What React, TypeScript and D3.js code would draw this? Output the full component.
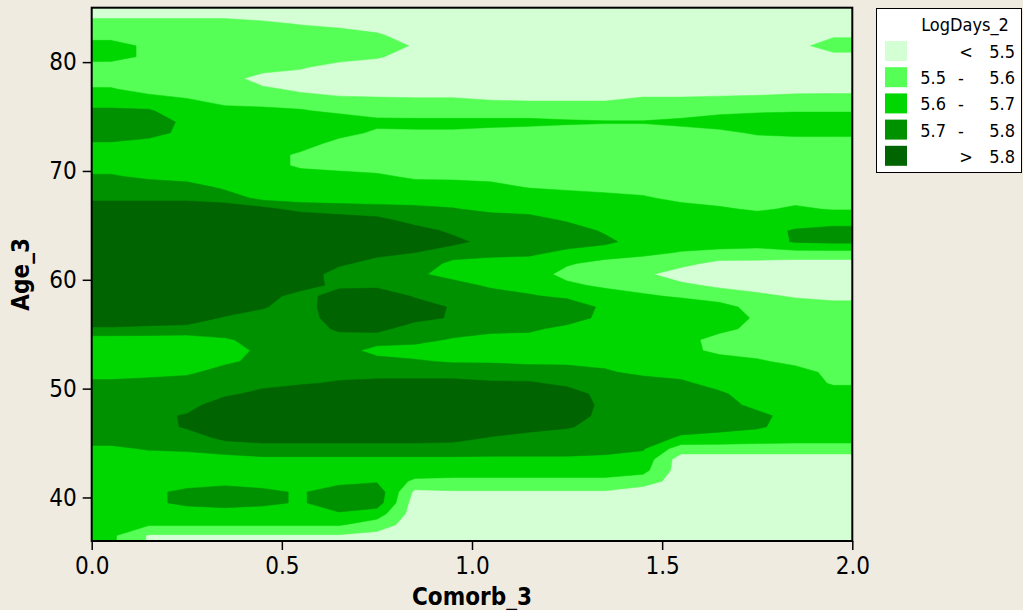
import * as d3 from "d3";
import { useEffect, useRef } from "react";

// grid cell centres (Comorb_3 across, Age_3 from top to bottom)
const comorbCenters = [
  0.05, 0.15, 0.25, 0.35, 0.45, 0.55, 0.65, 0.75, 0.85, 0.95,
  1.05, 1.15, 1.25, 1.35, 1.45, 1.55, 1.65, 1.75, 1.85, 1.95,
];
const ageCenters = [
  84.5, 83.5, 82.5, 81.5, 80.5, 79.5, 78.5, 77.5, 76.5, 75.5, 74.5, 73.5,
  72.5, 71.5, 70.5, 69.5, 68.5, 67.5, 66.5, 65.5, 64.5, 63.5, 62.5, 61.5,
  60.5, 59.5, 58.5, 57.5, 56.5, 55.5, 54.5, 53.5, 52.5, 51.5, 50.5, 49.5,
  48.5, 47.5, 46.5, 45.5, 44.5, 43.5, 42.5, 41.5, 40.5, 39.5, 38.5, 37.5, 36.5,
];

// LogDays_2, one row per age
const logDays = [
  [5.45, 5.45, 5.45, 5.45, 5.45, 5.45, 5.45, 5.45, 5.45, 5.45, 5.45, 5.45, 5.45, 5.45, 5.45, 5.45, 5.45, 5.45, 5.45, 5.45],
  [5.55, 5.55, 5.55, 5.55, 5.52, 5.495, 5.47, 5.46, 5.45, 5.45, 5.45, 5.45, 5.45, 5.45, 5.45, 5.45, 5.45, 5.45, 5.45, 5.45],
  [5.56, 5.55, 5.55, 5.55, 5.55, 5.55, 5.55, 5.51, 5.46, 5.45, 5.44, 5.44, 5.44, 5.44, 5.44, 5.44, 5.44, 5.44, 5.45, 5.48],
  [5.64, 5.58, 5.55, 5.55, 5.55, 5.55, 5.55, 5.55, 5.49, 5.45, 5.44, 5.44, 5.44, 5.44, 5.44, 5.44, 5.44, 5.44, 5.46, 5.56],
  [5.64, 5.58, 5.55, 5.55, 5.55, 5.55, 5.55, 5.51, 5.46, 5.44, 5.43, 5.43, 5.43, 5.43, 5.43, 5.43, 5.43, 5.44, 5.45, 5.46],
  [5.55, 5.55, 5.55, 5.55, 5.55, 5.51, 5.45, 5.45, 5.44, 5.43, 5.43, 5.43, 5.43, 5.43, 5.43, 5.43, 5.43, 5.43, 5.44, 5.44],
  [5.55, 5.55, 5.55, 5.55, 5.45, 5.45, 5.44, 5.43, 5.43, 5.43, 5.43, 5.43, 5.43, 5.43, 5.43, 5.43, 5.43, 5.43, 5.44, 5.44],
  [5.61, 5.56, 5.55, 5.55, 5.52, 5.48, 5.45, 5.45, 5.45, 5.45, 5.45, 5.45, 5.45, 5.45, 5.45, 5.45, 5.45, 5.45, 5.45, 5.45],
  [5.65, 5.65, 5.61, 5.57, 5.55, 5.55, 5.53, 5.52, 5.515, 5.515, 5.5, 5.495, 5.495, 5.495, 5.52, 5.52, 5.53, 5.54, 5.57, 5.58],
  [5.72, 5.71, 5.65, 5.63, 5.63, 5.61, 5.58, 5.55, 5.56, 5.56, 5.56, 5.56, 5.56, 5.56, 5.56, 5.56, 5.58, 5.59, 5.595, 5.595],
  [5.76, 5.77, 5.67, 5.65, 5.65, 5.65, 5.66, 5.63, 5.62, 5.62, 5.62, 5.62, 5.61, 5.605, 5.605, 5.62, 5.64, 5.65, 5.65, 5.65],
  [5.75, 5.74, 5.67, 5.66, 5.66, 5.66, 5.64, 5.58, 5.59, 5.59, 5.58, 5.57, 5.57, 5.57, 5.57, 5.57, 5.58, 5.61, 5.62, 5.62],
  [5.69, 5.66, 5.65, 5.66, 5.66, 5.65, 5.56, 5.55, 5.55, 5.55, 5.55, 5.55, 5.55, 5.55, 5.55, 5.55, 5.56, 5.56, 5.56, 5.56],
  [5.65, 5.65, 5.65, 5.65, 5.65, 5.58, 5.55, 5.55, 5.55, 5.55, 5.55, 5.55, 5.55, 5.55, 5.55, 5.55, 5.55, 5.55, 5.55, 5.55],
  [5.66, 5.65, 5.65, 5.65, 5.65, 5.58, 5.57, 5.55, 5.55, 5.56, 5.56, 5.56, 5.56, 5.56, 5.56, 5.56, 5.56, 5.56, 5.56, 5.56],
  [5.71, 5.68, 5.65, 5.66, 5.66, 5.65, 5.63, 5.62, 5.58, 5.58, 5.57, 5.57, 5.57, 5.56, 5.56, 5.56, 5.56, 5.56, 5.56, 5.56],
  [5.75, 5.75, 5.75, 5.68, 5.66, 5.66, 5.66, 5.66, 5.65, 5.64, 5.63, 5.595, 5.58, 5.57, 5.57, 5.57, 5.56, 5.57, 5.57, 5.57],
  [5.78, 5.78, 5.78, 5.76, 5.67, 5.66, 5.66, 5.66, 5.66, 5.66, 5.66, 5.66, 5.65, 5.63, 5.61, 5.58, 5.57, 5.58, 5.58, 5.58],
  [5.86, 5.86, 5.86, 5.85, 5.83, 5.76, 5.74, 5.73, 5.72, 5.705, 5.68, 5.67, 5.67, 5.66, 5.64, 5.63, 5.61, 5.59, 5.61, 5.595],
  [5.88, 5.9, 5.9, 5.9, 5.86, 5.9, 5.86, 5.83, 5.76, 5.75, 5.74, 5.73, 5.69, 5.67, 5.66, 5.65, 5.64, 5.64, 5.65, 5.66],
  [5.9, 5.9, 5.9, 5.9, 5.88, 5.9, 5.88, 5.86, 5.84, 5.78, 5.76, 5.76, 5.74, 5.69, 5.67, 5.66, 5.65, 5.66, 5.71, 5.73],
  [5.9, 5.9, 5.9, 5.9, 5.88, 5.9, 5.87, 5.86, 5.86, 5.83, 5.76, 5.75, 5.74, 5.72, 5.66, 5.64, 5.64, 5.64, 5.71, 5.72],
  [5.9, 5.9, 5.9, 5.9, 5.88, 5.89, 5.85, 5.83, 5.8, 5.74, 5.73, 5.72, 5.68, 5.65, 5.62, 5.595, 5.58, 5.57, 5.57, 5.57],
  [5.9, 5.9, 5.9, 5.9, 5.87, 5.88, 5.82, 5.76, 5.75, 5.68, 5.66, 5.66, 5.61, 5.57, 5.56, 5.53, 5.47, 5.47, 5.46, 5.46],
  [5.9, 5.9, 5.9, 5.9, 5.87, 5.87, 5.75, 5.76, 5.72, 5.66, 5.65, 5.65, 5.57, 5.55, 5.52, 5.45, 5.45, 5.45, 5.44, 5.44],
  [5.9, 5.9, 5.9, 5.9, 5.86, 5.85, 5.77, 5.78, 5.75, 5.74, 5.68, 5.66, 5.62, 5.58, 5.57, 5.52, 5.48, 5.46, 5.45, 5.45],
  [5.88, 5.9, 5.9, 5.9, 5.85, 5.75, 5.86, 5.86, 5.79, 5.76, 5.75, 5.71, 5.68, 5.65, 5.61, 5.59, 5.56, 5.52, 5.49, 5.47],
  [5.87, 5.87, 5.88, 5.86, 5.81, 5.74, 5.88, 5.88, 5.85, 5.79, 5.77, 5.74, 5.76, 5.68, 5.65, 5.65, 5.63, 5.57, 5.55, 5.54],
  [5.85, 5.85, 5.85, 5.79, 5.75, 5.73, 5.87, 5.88, 5.83, 5.79, 5.76, 5.74, 5.75, 5.67, 5.66, 5.66, 5.64, 5.59, 5.56, 5.56],
  [5.79, 5.78, 5.77, 5.75, 5.74, 5.73, 5.82, 5.83, 5.75, 5.75, 5.73, 5.72, 5.67, 5.66, 5.66, 5.66, 5.63, 5.57, 5.56, 5.56],
  [5.65, 5.65, 5.65, 5.69, 5.73, 5.73, 5.75, 5.74, 5.73, 5.69, 5.66, 5.66, 5.65, 5.65, 5.65, 5.64, 5.56, 5.56, 5.56, 5.57],
  [5.64, 5.64, 5.64, 5.66, 5.72, 5.73, 5.74, 5.67, 5.66, 5.66, 5.65, 5.65, 5.65, 5.65, 5.65, 5.64, 5.57, 5.57, 5.57, 5.57],
  [5.64, 5.64, 5.64, 5.68, 5.73, 5.74, 5.75, 5.73, 5.71, 5.69, 5.69, 5.68, 5.68, 5.68, 5.67, 5.67, 5.65, 5.61, 5.58, 5.58],
  [5.66, 5.66, 5.68, 5.74, 5.75, 5.76, 5.77, 5.77, 5.77, 5.77, 5.76, 5.75, 5.74, 5.71, 5.68, 5.68, 5.67, 5.64, 5.63, 5.58],
  [5.72, 5.74, 5.75, 5.76, 5.77, 5.79, 5.81, 5.82, 5.82, 5.82, 5.81, 5.81, 5.78, 5.74, 5.74, 5.71, 5.68, 5.66, 5.65, 5.59],
  [5.76, 5.76, 5.76, 5.78, 5.83, 5.86, 5.86, 5.86, 5.86, 5.86, 5.85, 5.84, 5.84, 5.77, 5.76, 5.73, 5.71, 5.67, 5.66, 5.64],
  [5.76, 5.77, 5.76, 5.86, 5.87, 5.88, 5.88, 5.88, 5.88, 5.88, 5.87, 5.86, 5.85, 5.78, 5.77, 5.74, 5.73, 5.68, 5.67, 5.66],
  [5.76, 5.77, 5.81, 5.88, 5.88, 5.88, 5.88, 5.88, 5.88, 5.88, 5.87, 5.86, 5.85, 5.77, 5.76, 5.74, 5.73, 5.72, 5.67, 5.66],
  [5.76, 5.76, 5.81, 5.87, 5.87, 5.87, 5.87, 5.87, 5.87, 5.87, 5.85, 5.84, 5.81, 5.76, 5.75, 5.73, 5.72, 5.71, 5.67, 5.66],
  [5.75, 5.75, 5.76, 5.82, 5.84, 5.84, 5.84, 5.84, 5.84, 5.83, 5.795, 5.76, 5.75, 5.75, 5.74, 5.69, 5.68, 5.66, 5.65, 5.65],
  [5.68, 5.71, 5.72, 5.75, 5.76, 5.76, 5.76, 5.76, 5.76, 5.76, 5.75, 5.75, 5.75, 5.74, 5.71, 5.55, 5.55, 5.55, 5.55, 5.55],
  [5.66, 5.65, 5.65, 5.66, 5.68, 5.68, 5.68, 5.68, 5.68, 5.68, 5.68, 5.68, 5.68, 5.67, 5.66, 5.45, 5.45, 5.45, 5.45, 5.45],
  [5.65, 5.65, 5.65, 5.65, 5.65, 5.66, 5.66, 5.66, 5.66, 5.66, 5.66, 5.66, 5.66, 5.66, 5.63, 5.45, 5.45, 5.45, 5.45, 5.45],
  [5.64, 5.65, 5.66, 5.67, 5.66, 5.66, 5.67, 5.69, 5.58, 5.57, 5.57, 5.57, 5.57, 5.57, 5.55, 5.45, 5.45, 5.45, 5.45, 5.45],
  [5.64, 5.68, 5.72, 5.74, 5.72, 5.69, 5.75, 5.76, 5.48, 5.49, 5.49, 5.49, 5.49, 5.49, 5.45, 5.45, 5.45, 5.45, 5.45, 5.45],
  [5.64, 5.68, 5.72, 5.74, 5.72, 5.69, 5.75, 5.75, 5.45, 5.45, 5.45, 5.45, 5.45, 5.45, 5.45, 5.45, 5.45, 5.45, 5.45, 5.45],
  [5.64, 5.64, 5.65, 5.65, 5.65, 5.65, 5.69, 5.65, 5.45, 5.45, 5.45, 5.45, 5.45, 5.45, 5.45, 5.45, 5.45, 5.45, 5.45, 5.45],
  [5.63, 5.61, 5.61, 5.61, 5.61, 5.61, 5.61, 5.55, 5.45, 5.45, 5.45, 5.45, 5.45, 5.45, 5.45, 5.45, 5.45, 5.45, 5.45, 5.45],
  [5.62, 5.49, 5.49, 5.49, 5.49, 5.49, 5.49, 5.47, 5.45, 5.45, 5.45, 5.45, 5.45, 5.45, 5.45, 5.45, 5.45, 5.45, 5.45, 5.45],
];

const thresholds = [5.5, 5.6, 5.7, 5.8];
const bandColors = ["#d4ffd4", "#55ff55", "#00d700", "#009100", "#006400"];
const legendLow = ["", "5.5", "5.6", "5.7", ""];
const legendSign = ["<", "-", "-", "-", ">"];
const legendHigh = ["5.5", "5.6", "5.7", "5.8", "5.8"];
const xTicks = [0, 0.5, 1, 1.5, 2];
const yTicks = [40, 50, 60, 70, 80];

const FONT = "'DejaVu Sans Condensed', 'DejaVu Sans', sans-serif";

export default function App() {
  const svgRef = useRef<SVGSVGElement>(null);
  const width = 1023;
  const height = 610;

  useEffect(() => {
    if (!svgRef.current) return;
    const svg = d3.select(svgRef.current);
    svg.selectAll("*").remove();

    const x = d3.scaleLinear().domain([0, 2]).range([91.7, 852.3]);
    const y = d3.scaleLinear().domain([36, 85]).range([541, 7.7]);

    svg.append("rect").attr("width", width).attr("height", height).attr("fill", "#efebe1");

    // pad the grid by one cell on each side so the plot edges are interpolated too
    const nx = comorbCenters.length;
    const ny = ageCenters.length;
    const padded: number[][] = [logDays[0], ...logDays, logDays[ny - 1]].map((row) => [
      row[0],
      ...row,
      row[nx - 1],
    ]);
    const px = nx + 2;
    const py = ny + 2;
    const stepX = comorbCenters[1] - comorbCenters[0];
    const stepY = ageCenters[0] - ageCenters[1];
    const gridX = d3.scaleLinear().domain([0, px])
      .range([comorbCenters[0] - 1.5 * stepX, comorbCenters[nx - 1] + 1.5 * stepX]);
    const gridY = d3.scaleLinear().domain([0, py])
      .range([ageCenters[0] + 1.5 * stepY, ageCenters[ny - 1] - 1.5 * stepY]);

    const bands = d3.contours().size([px, py]).thresholds(thresholds)(padded.flat());
    const projection = d3.geoTransform({
      point(gx: number, gy: number) {
        this.stream.point(x(gridX(gx)), y(gridY(gy)));
      },
    });
    const path = d3.geoPath(projection);

    svg.append("defs").append("clipPath").attr("id", "plot-clip")
      .append("rect")
      .attr("x", x(0)).attr("y", y(85))
      .attr("width", x(2) - x(0)).attr("height", y(36) - y(85));

    const plot = svg.append("g").attr("clip-path", "url(#plot-clip)");
    plot.append("rect")
      .attr("x", x(0)).attr("y", y(85))
      .attr("width", x(2) - x(0)).attr("height", y(36) - y(85))
      .attr("fill", bandColors[0]);
    plot.selectAll("path.band")
      .data(bands)
      .enter()
      .append("path")
      .attr("class", "band")
      .attr("d", (d) => path(d as any) || "")
      .attr("fill", (_d, i) => bandColors[i + 1])
      .attr("stroke", (_d, i) => bandColors[i + 1])
      .attr("stroke-width", 0.5);

    // axes
    const xAxis = svg.append("g")
      .attr("transform", `translate(0,${y(36)})`)
      .call(d3.axisBottom(x).tickValues(xTicks).tickFormat(d3.format(".1f")).tickSize(9).tickPadding(7));
    const yAxis = svg.append("g")
      .attr("transform", `translate(${x(0)},0)`)
      .call(d3.axisLeft(y).tickValues(yTicks).tickSize(9).tickPadding(6));
    [xAxis, yAxis].forEach((a) => {
      a.select(".domain").remove();
      a.selectAll("line").attr("stroke", "#000").attr("stroke-width", 1.5);
      a.selectAll("text")
        .attr("fill", "#000")
        .style("font-family", FONT)
        .style("font-stretch", "condensed")
        .style("font-size", "24px");
    });

    svg.append("rect")
      .attr("x", x(0)).attr("y", y(85))
      .attr("width", x(2) - x(0)).attr("height", y(36) - y(85))
      .attr("fill", "none").attr("stroke", "#000").attr("stroke-width", 2);

    // axis titles
    svg.append("text")
      .attr("x", (x(0) + x(2)) / 2).attr("y", 605)
      .attr("text-anchor", "middle")
      .style("font-family", FONT).style("font-stretch", "condensed")
      .style("font-size", "24px").style("font-weight", "bold")
      .text("Comorb_3");
    svg.append("text")
      .attr("transform", `translate(29,${(y(36) + y(85)) / 2}) rotate(-90)`)
      .attr("text-anchor", "middle")
      .style("font-family", FONT).style("font-stretch", "condensed")
      .style("font-size", "24px").style("font-weight", "bold")
      .text("Age_3");

    // legend
    const lg = svg.append("g");
    lg.append("rect")
      .attr("x", 876.5).attr("y", 8.5).attr("width", 145).attr("height", 164)
      .attr("fill", "#fff").attr("stroke", "#000").attr("stroke-width", 1);
    const lgText = (sel: any) =>
      sel.style("font-family", FONT).style("font-stretch", "condensed").style("font-size", "18px").attr("fill", "#000");
    lg.append("text").attr("x", 965).attr("y", 31).attr("text-anchor", "middle").call(lgText).text("LogDays_2");
    bandColors.forEach((c, i) => {
      const top = 41 + i * 26.2;
      lg.append("rect").attr("x", 885).attr("y", top).attr("width", 22).attr("height", 20).attr("fill", c);
      const base = top + 17;
      lg.append("text").attr("x", 946).attr("y", base).attr("text-anchor", "end").call(lgText).text(legendLow[i]);
      lg.append("text")
        .attr("x", legendSign[i] === "-" ? 961 : 966)
        .attr("y", base).attr("text-anchor", "middle").call(lgText).text(legendSign[i]);
      lg.append("text").attr("x", 1015).attr("y", base).attr("text-anchor", "end").call(lgText).text(legendHigh[i]);
    });
  }, []);

  return (
    <svg
      ref={svgRef}
      width={width}
      height={height}
      style={{ position: "absolute", left: 0, top: 0, display: "block" }}
    />
  );
}
